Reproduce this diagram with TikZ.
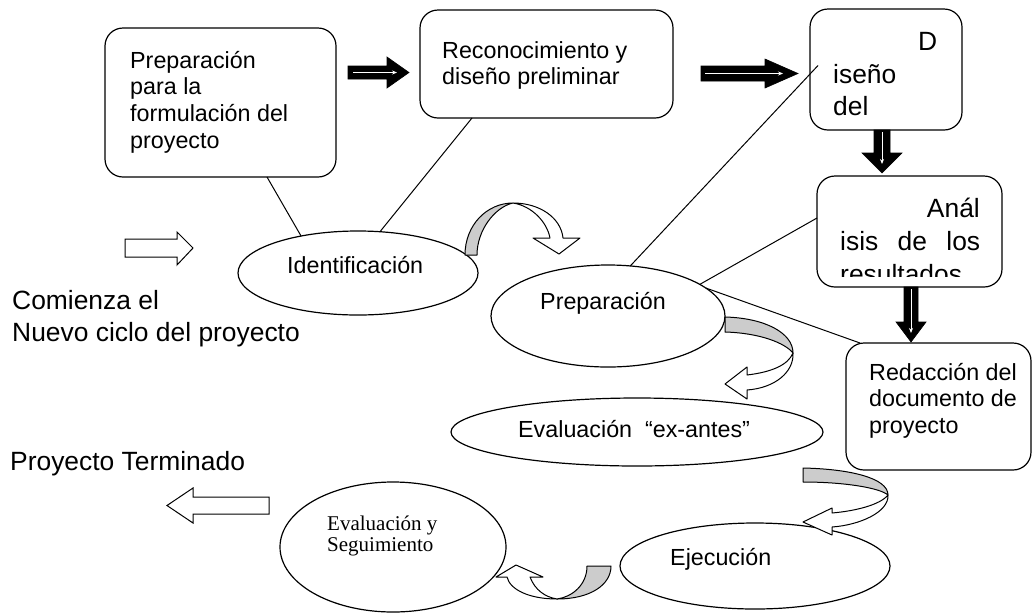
\documentclass[tikz,border=0pt]{standalone}
\usepackage{fontspec}
\setmainfont{Liberation Sans}
\newfontfamily\timesfont{Liberation Serif}
\usetikzlibrary{shapes.geometric,arrows.meta,calc}
\begin{document}
\begin{tikzpicture}[x=1pt,y=-1pt,
  box/.style={draw, line width=1.2pt, rounded corners=18pt, anchor=north west, inner sep=0pt, outer sep=0pt},
  oval/.style={draw, ellipse, line width=1.2pt, inner sep=0pt, outer sep=0pt},
  tsm/.style={anchor=base west, inner sep=0pt, font=\fontsize{23.3}{26.7}\selectfont},
  tbg/.style={anchor=base west, inner sep=0pt, font=\fontsize{26.4}{32.5}\selectfont},
  conn/.style={line width=1pt},
  blk/.style={fill=black, draw=black, line width=0.6pt, line join=miter},
  stripe/.style={draw=white, line width=0.8pt, -{Stealth[length=5pt,width=4pt]}},
  hollow/.style={fill=white, draw=black, line width=1pt},
  back/.style={fill=black!20, draw=black, line width=1pt, line join=round},
  front/.style={fill=white, draw=black, line width=1pt, line join=round}
]
\path[use as bounding box, fill=white] (0,0) rectangle (1035,614);

% boxes
\node[box, minimum width=231pt, minimum height=149pt] (b1) at (105,28) {};
\node[box, minimum width=253pt, minimum height=108pt] (b2) at (420,10) {};
\node[box, minimum width=152pt, minimum height=121pt] (b3) at (810,9) {};
\node[box, minimum width=185pt, minimum height=111pt] (b4) at (817,176) {};
\node[box, minimum width=185pt, minimum height=127pt] (b5) at (846,343) {};

% ellipses
\node[oval, minimum width=240pt, minimum height=84pt] (idn) at (358,273) {};
\node[oval, minimum width=234pt, minimum height=102pt] (prp) at (608,316) {};
\node[oval, minimum width=372pt, minimum height=68pt] (exa) at (637,432) {};
\node[oval, minimum width=270pt, minimum height=86pt] (eje) at (755,566) {};
\node[oval, minimum width=226pt, minimum height=130pt] (seg) at (393,547) {};

% connectors
\draw[conn] ($(b1.south west)+(162,0)$) -- (idn.147);
\draw[conn] ($(b2.south west)+(52,0)$) -- (idn.62);
\draw[conn] ($(b3.west)+(8,-4)$) -- (prp.66);
\draw[conn] ($(b4.west)+(0,-13.5)$) -- (prp.19);
\draw[conn] (prp.16) -- ($(b5.north west)+(14,0)$);

% black block arrows
\path[blk] (348,66) -- (387,66) -- (387,57) -- (409,72.5) -- (387,88) -- (387,79) -- (348,79) -- cycle;
\draw[stripe] (353,72.5) -- (397,72.5);
\path[blk] (701,66) -- (765,66) -- (765,59) -- (798,73.5) -- (765,88) -- (765,81) -- (701,81) -- cycle;
\draw[stripe] (705,73.5) -- (783,73.5);
\path[blk] (874,130) -- (890,130) -- (890,153) -- (902,153) -- (882,173) -- (862,153) -- (874,153) -- cycle;
\draw[stripe] (882,132) -- (882,164);
\path[blk] (904,287) -- (918,287) -- (918,322) -- (926,322) -- (911,342) -- (896,322) -- (904,322) -- cycle;
\draw[stripe] (911,289) -- (911,333);

% hollow block arrows
\path[hollow] (125,239) -- (177,239) -- (177,232) -- (193,248) -- (177,265) -- (177,257) -- (125,257) -- cycle;
\path[hollow] (269,497) -- (193,497) -- (193,488) -- (167,505.5) -- (193,523) -- (193,514) -- (269,514) -- cycle;

% curved arrow 1
\path[back] (465,255) .. controls (465,225) and (487,203) .. (513,203)
  .. controls (495,207) and (477,230) .. (477,255) -- cycle;
\path[front] (513,203) .. controls (540,203) and (561,218) .. (563,238)
  -- (580,238) -- (559,254) -- (533,238) -- (550,238)
  .. controls (547,222) and (532,206) .. (513,203) -- cycle;

% curved arrow 2
\path[back] (725,317) .. controls (765,318) and (793,333) .. (793,353)
  .. controls (785,343) and (760,333) .. (725,332) -- cycle;
\path[front] (793,353) .. controls (794,372) and (775,388) .. (747,390)
  -- (747,399) -- (725,384) -- (747,367) -- (747,375)
  .. controls (772,372) and (788,365) .. (793,353) -- cycle;

% curved arrow 3
\path[back] (803,468) .. controls (850,469) and (888,478) .. (888,495)
  .. controls (880,488) and (845,482) .. (803,482) -- cycle;
\path[front] (888,495) .. controls (889,512) and (860,525) .. (832,527)
  -- (832,535) -- (803,522) -- (832,508) -- (832,513)
  .. controls (855,511) and (880,505) .. (888,495) -- cycle;

% curved arrow 4
\path[back] (587,566) -- (611,566) .. controls (611,585) and (590,599) .. (557,599)
  .. controls (572,597) and (587,585) .. (587,566) -- cycle;
\path[front] (557,599) .. controls (530,599) and (510,590) .. (507,577)
  -- (496,577) -- (516,565) -- (543,577) -- (530,577)
  .. controls (535,590) and (545,597) .. (557,599) -- cycle;

% texts in boxes
\node[tsm] (t1) at (130,68) {\vtop{\hbox{Preparación}\hbox{para la}\hbox{formulación del}\hbox{proyecto}}};
\node[tsm] (t2) at (442,58) {\vtop{\hbox{Reconocimiento y}\hbox{diseño preliminar}}};
\node[tbg] (t3a) at (918,50) {D};
\node[tbg] (t3b) at (833,83) {\vtop{\hbox{iseño}\hbox{del}}};
\node[tbg, anchor=base east] (t4a) at (980,217) {Anál};
\node[tbg] (t4b) at (840,250) {\makebox[140pt][s]{isis de los}};
\begin{scope}
\clip (817,176) rectangle (1002,276.5);
\node[tbg] (t4c) at (840,283) {resultados};
\end{scope}
\node[tsm] (t5) at (869,380) {\vtop{\hbox{Redacción del}\hbox{documento de}\hbox{proyecto}}};

% texts in ellipses
\node[tsm] (e1) at (287,273) {Identificación};
\node[tsm] (e2) at (540,309) {Preparación};
\node[tsm] (e3) at (518,437.5) {Evaluación\ \ “ex-antes”};
\node[tsm] (e4) at (670,565) {Ejecución};
\node[anchor=base west, inner sep=0pt, font=\timesfont\fontsize{21}{21.7}\selectfont] (e5) at (327,530)
  {\vtop{\hbox{Evaluación y}\hbox{Seguimiento}}};

% free texts
\node[tbg] (c1) at (12,309) {\vtop{\hbox{Comienza el}\hbox{Nuevo ciclo del proyecto}}};
\node[tbg] (pt) at (10,470) {Proyecto Terminado};
\end{tikzpicture}
\end{document}
